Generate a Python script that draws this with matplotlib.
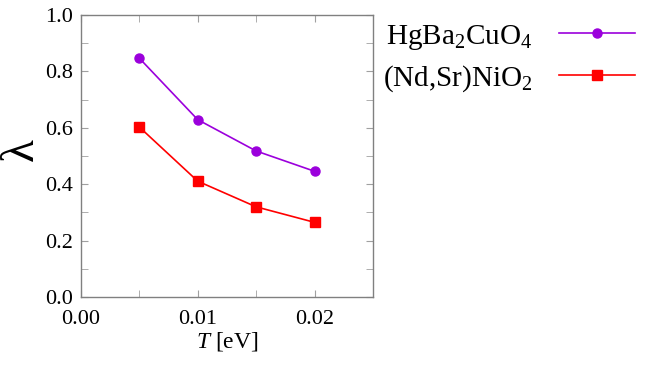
import matplotlib
matplotlib.use('Agg')
import matplotlib.pyplot as plt
from matplotlib.ticker import MultipleLocator

plt.rcParams['font.family'] = ['Liberation Serif', 'DejaVu Serif']
plt.rcParams['mathtext.fontset'] = 'custom'
plt.rcParams['mathtext.rm'] = 'Liberation Serif'
plt.rcParams['mathtext.it'] = 'Liberation Serif:italic'

# temperatures [eV]
T = [0.005, 0.010, 0.015, 0.020]
# coupling lambda
lam_hg = [0.847, 0.629, 0.518, 0.446]
lam_ni = [0.603, 0.411, 0.320, 0.265]

labels = [r'HgBa$_2$CuO$_4$', r'(Nd,Sr)NiO$_2$']

fig = plt.figure(figsize=(6.52, 3.65), dpi=100)
ax = fig.add_axes([0.124, 0.186, 0.448, 0.773])

ax.plot(T, lam_hg, color='#9b00dc', lw=1.2, marker='o', ms=6.5, label=labels[0])
ax.plot(T, lam_ni, color='#ff0000', lw=1.2, marker='s', ms=6.5, label=labels[1])

ax.set_xlim(0, 0.025)
ax.set_ylim(0, 1.0)
ax.xaxis.set_minor_locator(MultipleLocator(0.005))
ax.yaxis.set_minor_locator(MultipleLocator(0.1))
ax.set_xticks([0, 0.01, 0.02])
ax.set_xticklabels(['0.00', '0.01', '0.02'])
ax.set_yticks([0, 0.2, 0.4, 0.6, 0.8, 1.0])
ax.set_yticklabels(['0.0', '0.2', '0.4', '0.6', '0.8', '1.0'])

for s in ax.spines.values():
    s.set_color('#808080')
    s.set_linewidth(1.0)
ax.tick_params(which='both', direction='in', top=True, right=True,
               color='#a0a0a0', labelsize=16, length=5)
ax.tick_params(axis='x', which='both', pad=9)
ax.tick_params(axis='y', which='both', pad=6)

ax.set_xlabel(r'$T$ [eV]', fontsize=17, labelpad=1)
fig.text(22 / 652, 1 - 150 / 365, 'λ', rotation=90, fontsize=34,
         ha='center', va='center')

fig.legend(loc='upper left', bbox_to_anchor=(0.547, 1.01), frameon=False,
           markerfirst=False, fontsize=21, handlelength=2.6,
           handletextpad=0.9, labelspacing=0.4)

fig.savefig('out.png', dpi=100)
